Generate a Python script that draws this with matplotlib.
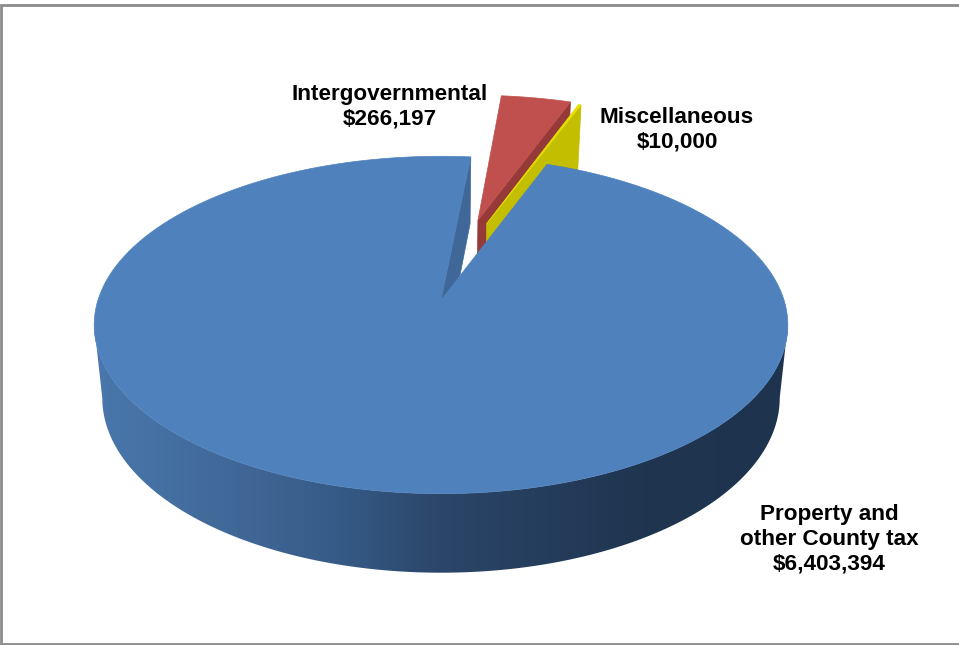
import numpy as np
import matplotlib
matplotlib.use('Agg')
import matplotlib.pyplot as plt
from matplotlib.colors import LinearSegmentedColormap
from matplotlib.patches import Polygon

# Budget figures
categories = ['Property and\nother County tax', 'Intergovernmental', 'Miscellaneous']
values = [6403394, 266197, 10000]

top_colors = ['#4F81BD', '#C0504D', '#E6E000']
wall_colors = ['#3F6797', '#953A38', '#C4BE00']
rim_cmap = LinearSegmentedColormap.from_list('rim', [(0.0, '#4A78AD'), (0.23, '#3F6695'), (0.36, '#365A86'),
                                                     (0.5, '#2B4669'), (0.79, '#1F3550'), (1.0, '#1E334E')])

start_angle = 20.6    # clockwise from the back of the pie
explode = [(0.0, 0.0), (0.116, 0.52), (0.143, 0.497)]
px, py = 441, 300     # pie center, top face
bottom_py = 372       # pie center, bottom face
k = 0.148             # perspective strength


def project(u, v, bottom=False):
    # perspective view of the unit disc, v runs toward the back
    u, v = np.asarray(u), np.asarray(v)
    f, g, cy = (335, 171, bottom_py) if bottom else (343, 165, py)
    d = 1 + k * v
    return px + f * u / d, cy - g * v / d


def arc(a0, a1, n=200):
    t = np.radians(np.linspace(a0, a1, n))
    return np.sin(t), np.cos(t)


def face(a0, a1, off, bottom=False):
    u, v = arc(a0, a1)
    u = np.r_[0, u] + off[0]
    v = np.r_[0, v] + off[1]
    return np.column_stack(project(u, v, bottom))


def cut_wall(angle, off):
    # wall along the straight cut of a slice
    s, c = np.sin(np.radians(angle)), np.cos(np.radians(angle))
    us = np.array([off[0], off[0] + s])
    vs = np.array([off[1], off[1] + c])
    top = np.column_stack(project(us, vs))
    bot = np.column_stack(project(us, vs, True))
    return np.vstack([top, bot[::-1]])


sweeps = 360 * np.array(values) / sum(values)
a0 = start_angle
spans = []
for sw in sweeps:
    spans.append((a0, a0 + sw))
    a0 += sw

fig = plt.figure(figsize=(9.59, 6.45), dpi=100)
ax = fig.add_axes([0, 0, 1, 1])
ax.axis('off')

# frame around the chart area, open on the right
ax.plot([959, 1.3, 1.3, 959], [4.5, 4.5, 644, 644], color='#8C8C8C', lw=2.0, solid_joinstyle='miter')

# wall left open by the gap in the big slice
ax.add_patch(Polygon(cut_wall(spans[0][1], explode[0]), fc=wall_colors[0], ec=wall_colors[0], lw=0.5))

# exploded slices, wall then top
for i in (1, 2):
    ax.add_patch(Polygon(cut_wall(spans[i][1], explode[i]), fc=wall_colors[i], ec=wall_colors[i], lw=0.5))
    ax.add_patch(Polygon(face(spans[i][0], spans[i][1], explode[i]), fc=top_colors[i], ec=top_colors[i], lw=0.5))

# outer rim of the big slice, shaded left to right, between the two tangent points
tangent = np.degrees(np.arccos(-k))
u, v = arc(tangent, 360 - tangent, 400)
rim_top = np.column_stack(project(u, v))
rim_bot = np.column_stack(project(u, v, True))
rim = Polygon(np.vstack([rim_top, rim_bot[::-1]]), fc='none', ec='none', transform=ax.transData)
ax.add_patch(rim)
gradient = np.linspace(0, 1, 256).reshape(1, -1)
im = ax.imshow(gradient, cmap=rim_cmap, extent=(90, 790, 645, 0), aspect='auto', interpolation='bilinear')
im.set_clip_path(rim)

ax.add_patch(Polygon(face(spans[0][0], spans[0][1], explode[0]), fc=top_colors[0], ec=top_colors[0], lw=0.5))

# data labels
label_pos = [(829, 539), (390, 107), (677, 130)]
for name, val, (lx, ly) in zip(categories, values, label_pos):
    ax.text(lx, ly, f'{name}\n${val:,}', ha='center', va='center', fontsize=16.2,
            fontweight='bold', family='Liberation Sans', color='black', linespacing=1.23)

ax.set_xlim(0, 959)
ax.set_ylim(645, 0)
fig.savefig('out.png', dpi=100, facecolor='white')
